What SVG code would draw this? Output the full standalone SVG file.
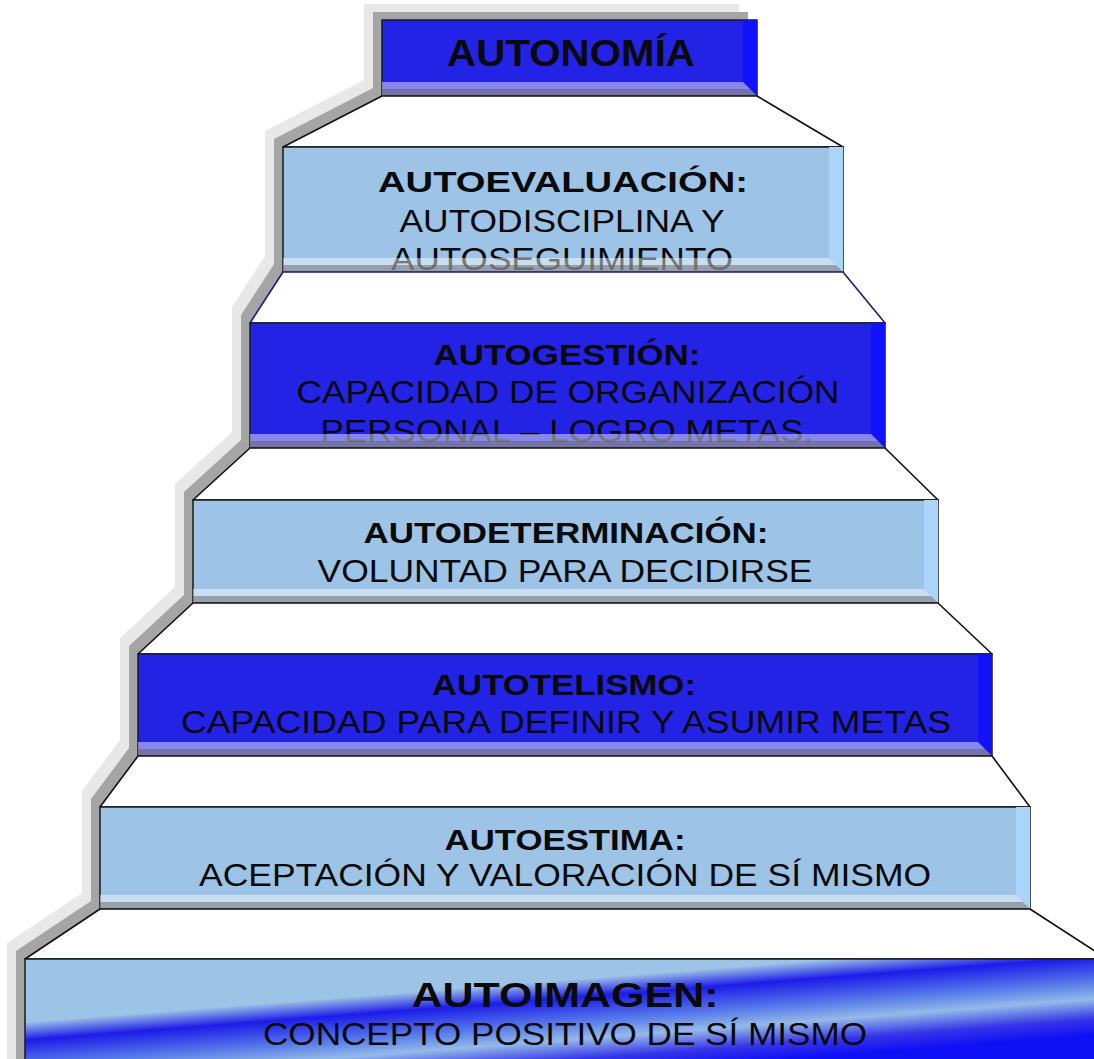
<svg xmlns="http://www.w3.org/2000/svg" width="1094" height="1059" viewBox="0 0 1094 1059">
<defs>
<style>
.dk{fill:#2323E6;stroke:#1a1a2a;stroke-width:1.5}
.lt{fill:#9DC3E6;stroke:#1a1a1a;stroke-width:1.5}
.rdk{fill:#1212FA}
.rlt{fill:#ABD4FA}
.bot{fill:url(#botGrad)}
.tread{fill:#ffffff;stroke:#111;stroke-width:1.6;stroke-linejoin:round}
.tread2{fill:#ffffff;stroke:#1c1c7a;stroke-width:1.6;stroke-linejoin:round}
.t{font-family:"Liberation Sans",Arial,sans-serif;fill:#0a0a0a;text-anchor:middle}
.h{font-weight:bold;font-size:29px}
.b{font-size:31px}
</style>
<linearGradient id="botGrad" x1="0" y1="0" x2="0" y2="1">
<stop offset="0" stop-color="#ffffff" stop-opacity="0.45"/>
<stop offset="0.48" stop-color="#ffffff" stop-opacity="0.45"/>
<stop offset="0.52" stop-color="#939393" stop-opacity="0.72"/>
<stop offset="1" stop-color="#939393" stop-opacity="0.72"/>
</linearGradient>
<linearGradient id="baseGrad" gradientUnits="userSpaceOnUse" x1="0" y1="960" x2="15.5" y2="1159">
<stop offset="0" stop-color="#9DC3E6"/>
<stop offset="0.32" stop-color="#9DC3E6"/>
<stop offset="0.41" stop-color="#1C1CE8"/>
<stop offset="0.54" stop-color="#5A7EEA"/>
<stop offset="0.62" stop-color="#94BAE8"/>
<stop offset="0.72" stop-color="#3535E8"/>
<stop offset="0.8" stop-color="#1010F5"/>
<stop offset="1" stop-color="#1010F5"/>
</linearGradient>
</defs>
<rect width="1094" height="1059" fill="#ffffff"/>
<g id="shadow">
<polygon fill="#E8E8E8" points="7,1059 7,943 82,893 82,791 120,740 120,638 175,587 175,484 232,432 232,307 265,256 265,131 364,80 364,4 739,4 739,40 600,1059"/>
<polygon fill="#A5A5A5" points="16,1059 16,951 91,901 91,799 129,748 129,646 184,595 184,492 241,440 241,315 274,264 274,139 373,88 373,12 748,12 748,40 600,1059"/>
</g>
<g id="connectors"></g>
<g id="step-autonomia">
<rect class="dk" x="382" y="20" width="375" height="76"/>
<polygon class="rdk" points="743,20 757,20 757,96 743,82"/>
<text class="t" x="571" y="66" font-size="36" font-weight="bold" textLength="248" lengthAdjust="spacingAndGlyphs">AUTONOMÍA</text>
<polygon class="bot" points="382,82 743,82 757,96 382,96"/>
</g>
<g id="step-autoevaluacion">
<polygon class="tread" points="382,96 757,96 843,147 283,147"/>
<rect class="lt" x="283" y="147" width="560" height="125"/>
<polygon class="rlt" points="829,147 843,147 843,272 829,258"/>
<text class="t h" x="563" y="192" textLength="370" lengthAdjust="spacingAndGlyphs">AUTOEVALUACIÓN:</text>
<text class="t b" x="562" y="232" textLength="325" lengthAdjust="spacingAndGlyphs">AUTODISCIPLINA Y</text>
<text class="t b" x="562" y="270" textLength="342" lengthAdjust="spacingAndGlyphs">AUTOSEGUIMIENTO</text>
<polygon class="bot" points="283,258 829,258 843,272 283,272"/>
</g>
<g id="step-autogestion">
<polygon class="tread2" points="283,272 843,272 885,323 250,323"/>
<rect class="dk" x="250" y="323" width="635" height="125"/>
<polygon class="rdk" points="871,323 885,323 885,448 871,434"/>
<text class="t h" x="567" y="365" textLength="267" lengthAdjust="spacingAndGlyphs">AUTOGESTIÓN:</text>
<text class="t b" x="568" y="403" textLength="543" lengthAdjust="spacingAndGlyphs">CAPACIDAD DE ORGANIZACIÓN</text>
<text class="t b" x="567" y="442" textLength="493" lengthAdjust="spacingAndGlyphs">PERSONAL – LOGRO METAS.</text>
<polygon class="bot" points="250,434 871,434 885,448 250,448"/>
</g>
<g id="step-autodeterminacion">
<polygon class="tread" points="250,448 885,448 938,500 193,500"/>
<rect class="lt" x="193" y="500" width="745" height="103"/>
<polygon class="rlt" points="924,500 938,500 938,603 924,589"/>
<text class="t h" x="566" y="543" textLength="405" lengthAdjust="spacingAndGlyphs">AUTODETERMINACIÓN:</text>
<text class="t b" x="565" y="582" textLength="495" lengthAdjust="spacingAndGlyphs">VOLUNTAD PARA DECIDIRSE</text>
<polygon class="bot" points="193,589 924,589 938,603 193,603"/>
</g>
<g id="step-autotelismo">
<polygon class="tread" points="193,603 938,603 992,654 138,654"/>
<rect class="dk" x="138" y="654" width="854" height="102"/>
<polygon class="rdk" points="978,654 992,654 992,756 978,742"/>
<text class="t h" x="564" y="695" textLength="264" lengthAdjust="spacingAndGlyphs">AUTOTELISMO:</text>
<text class="t b" x="566" y="733" textLength="770" lengthAdjust="spacingAndGlyphs">CAPACIDAD PARA DEFINIR Y ASUMIR METAS</text>
<polygon class="bot" points="138,742 978,742 992,756 138,756"/>
</g>
<g id="step-autoestima">
<polygon class="tread" points="138,756 992,756 1030,807 100,807"/>
<rect class="lt" x="100" y="807" width="930" height="102"/>
<polygon class="rlt" points="1016,807 1030,807 1030,909 1016,895"/>
<text class="t h" x="565" y="850" textLength="241" lengthAdjust="spacingAndGlyphs">AUTOESTIMA:</text>
<text class="t b" x="565" y="886" textLength="732" lengthAdjust="spacingAndGlyphs">ACEPTACIÓN Y VALORACIÓN DE SÍ MISMO</text>
<polygon class="bot" points="100,895 1016,895 1030,909 100,909"/>
</g>
<g id="step-autoimagen">
<polygon class="tread" points="100,909 1030,909 1107,959 25,959"/>
<rect x="25" y="959" width="1085" height="110" fill="url(#baseGrad)" stroke="#1a1a1a" stroke-width="1.5"/>
<text class="t" x="565" y="1007" font-size="35" font-weight="bold" textLength="307" lengthAdjust="spacingAndGlyphs">AUTOIMAGEN:</text>
<text class="t b" x="565" y="1045" textLength="604" lengthAdjust="spacingAndGlyphs">CONCEPTO POSITIVO DE SÍ MISMO</text>
</g>
</svg>
